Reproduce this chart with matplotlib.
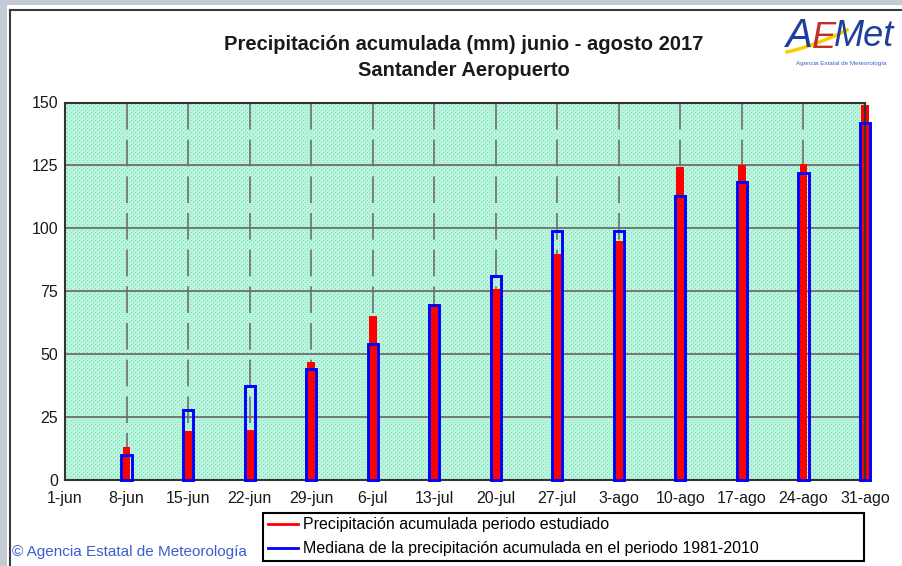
import numpy as np
import matplotlib
matplotlib.use('Agg')
import matplotlib.pyplot as plt
from matplotlib.patches import Rectangle
from matplotlib.lines import Line2D

plt.rcParams['font.family'] = ['Liberation Sans', 'DejaVu Sans']

# etiquetas del eje x (cada 7 dias desde el 1 de junio)
tick_labels = ['1-jun', '8-jun', '15-jun', '22-jun', '29-jun', '6-jul', '13-jul',
               '20-jul', '27-jul', '3-ago', '10-ago', '17-ago', '24-ago', '31-ago']
tick_days = [0, 7, 14, 21, 28, 35, 42, 49, 56, 63, 70, 77, 84, 91]
bar_days = tick_days[1:]

# precipitacion acumulada 2017 (mm)
precip_2017 = [13, 19.5, 20, 47, 65, 69, 76, 90, 95, 124.5, 125, 125.5, 149]
# mediana de la precipitacion acumulada 1981-2010 (mm)
mediana = [10, 28, 37.5, 44, 54, 69.5, 81, 99, 99, 113, 118.5, 122, 142]

leyenda = ['Precipitación acumulada periodo estudiado',
           'Mediana de la precipitación acumulada en el periodo 1981-2010']

W, H = 903, 566
fig = plt.figure(figsize=(W / 100, H / 100), dpi=100)
fig.patch.set_facecolor('#c3cad6')


def fx(px):
    return px / W


def fy(py):
    return 1 - py / H


# panel blanco con borde oscuro
fig.add_artist(Rectangle((fx(7), 0), 1, fy(5), transform=fig.transFigure,
                         facecolor='white', edgecolor='none', zorder=-2))
fig.add_artist(Line2D([fx(10.5), 1], [fy(9.5), fy(9.5)], transform=fig.transFigure,
                      color='#3a3a3a', lw=1.5, zorder=-1))
fig.add_artist(Line2D([fx(10.5), fx(10.5)], [0, fy(9.5)], transform=fig.transFigure,
                      color='#3a3a3a', lw=1.5, zorder=-1))

ax = fig.add_axes([fx(65), fy(480), fx(865) - fx(65), fy(102.5) - fy(480)])

# fondo verde punteado
ny, nx = 378, 800
bg = np.ones((ny, nx, 3)) * np.array([176, 250, 214]) / 255
yy, xx = np.mgrid[0:ny, 0:nx]
mask = ((xx % 4 == 0) & (yy % 4 == 0)) | ((xx % 4 == 2) & (yy % 4 == 2))
bg[mask] = np.array([186, 180, 228]) / 255
ax.imshow(bg, extent=(0, 91, 0, 150), aspect='auto', interpolation='nearest', zorder=0)

# rejilla
for v in [25, 50, 75, 100, 125]:
    ax.axhline(v, color='#6e6e6e', lw=1.3, zorder=1)
for d in tick_days[1:-1]:
    ax.plot([d, d], [150, 0], color='#6e6e6e', lw=1.2, ls=(0, (16, 6)), zorder=1)

# barras
ax.bar(bar_days, precip_2017, width=0.9, color='#ff0000', zorder=2, clip_on=False)
ax.bar(bar_days, mediana, width=1.15, facecolor='none', edgecolor='#0000ff',
       lw=2.1, zorder=3, clip_on=False)

ax.set_xlim(0, 91)
ax.set_ylim(0, 150)
ax.set_xticks(tick_days, tick_labels)
ax.set_yticks(np.arange(0, 151, 25))
ax.tick_params(length=0, labelsize=11.5, colors='#1a1a1a')
ax.tick_params(axis='x', pad=8)
ax.tick_params(axis='y', pad=5)
for s in ax.spines.values():
    s.set_color('#333333')
    s.set_linewidth(1.5)

# titulo
fig.text(fx(464), fy(45), 'Precipitación acumulada (mm) junio - agosto 2017',
         ha='center', va='center', fontsize=14.5, fontweight='bold', color='#1a1a1a')
fig.text(fx(464), fy(71), 'Santander Aeropuerto',
         ha='center', va='center', fontsize=14.5, fontweight='bold', color='#1a1a1a')

# leyenda
handles = [Line2D([], [], color='#ff0000', lw=2), Line2D([], [], color='#0000ff', lw=2)]
leg = fig.legend(handles, leyenda, loc='lower left',
                 bbox_to_anchor=(fx(263), fy(561), fx(864) - fx(263), fy(513) - fy(561)),
                 bbox_transform=fig.transFigure, mode='expand', borderaxespad=0,
                 fancybox=False, edgecolor='black', framealpha=1, fontsize=11.5,
                 handlelength=1.9, handletextpad=0.3, labelspacing=0.55, borderpad=0.3)
leg.get_frame().set_linewidth(1.5)

# copyright
fig.text(fx(12), fy(552), '© Agencia Estatal de Meteorología', color='#3a5fcd',
         fontsize=11, va='center', ha='left')

# logo AEMet
t = np.linspace(0, 1, 30)
sx = 787 + 60 * t
sy = 52 - 22 * t + 8 * t * (1 - t)
fig.add_artist(Line2D(fx(sx), fy(sy), transform=fig.transFigure, color='#f5d000', lw=2.5))
fig.text(fx(786), fy(36), 'A', color='#1f3f9f', fontsize=29, style='italic', va='center', ha='left')
fig.text(fx(812), fy(38), 'E', color='#c0302a', fontsize=26, style='italic', va='center', ha='left')
fig.text(fx(834), fy(36), 'Met', color='#1f3f9f', fontsize=26, style='italic', va='center', ha='left')
fig.text(fx(841), fy(64), 'Agencia Estatal de Meteorología', color='#3a5fcd',
         fontsize=4.5, va='center', ha='center')

fig.savefig('out.png', dpi=100, facecolor=fig.get_facecolor())
